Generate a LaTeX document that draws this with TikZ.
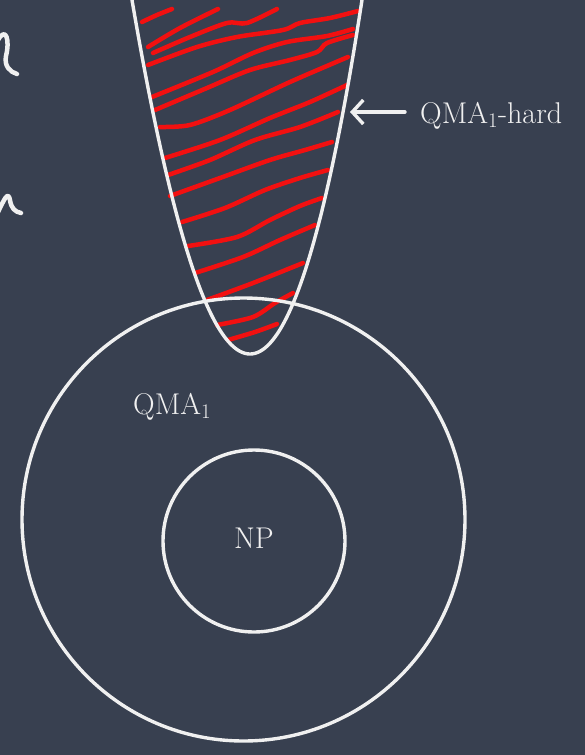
\documentclass[tikz,border=0pt]{standalone}
\usepackage{tikz}
\usetikzlibrary{arrows.meta}
\definecolor{board}{RGB}{56,64,80}
\definecolor{chalkred}{RGB}{242,16,16}
\definecolor{chalkwhite}{RGB}{240,240,240}
\begin{document}
\begin{tikzpicture}[x=1pt,y=-1pt,
	chalk/.style={draw=chalkwhite,line width=3.4pt,line cap=round,line join=round},
	hatch/.style={draw=chalkred,line width=4.5pt,line cap=round,line join=round},
	lbl/.style={text=chalkwhite,inner sep=0pt,font=\fontsize{30}{35}\selectfont}]
	\fill[board](0,0)rectangle(585,755);
	\clip(0,0)rectangle(585,755);
	% scribbles cut off at the left edge
	\draw[chalk,line width=4.5pt](-2,40)..controls(6,26)and(10,40)..(6,56)..controls(4,66)and(10,72)..(17,74);
	\draw[chalk,line width=4.5pt](-2,212)..controls(4,200)and(8,190)..(10,200)..controls(11,208)and(15,212)..(21,213);
	% red hatching
	\draw[hatch]plot[smooth]coordinates{(142,22)(157,15)(172,9)};
	\draw[hatch]plot[smooth]coordinates{(148,47)(180,28)(218,9)};
	\draw[hatch]plot[smooth]coordinates{(153,53)(190,37)(227,23)(247,23)(277,9)};
	\draw[hatch]plot[smooth]coordinates{(148,65)(197,47)(237,37)(283,30)(300,23)(330,18)(358,11)};
	\draw[hatch]plot[smooth]coordinates{(152,97)(213,72)(253,53)(287,42)(327,36)(353,29)};
	\draw[hatch]plot[smooth]coordinates{(155,110)(207,88)(250,70)(290,60)(317,52)(327,43)(353,35)};
	\draw[hatch]plot[smooth]coordinates{(160,127)(190,125)(230,110)(290,82)(348,57)};
	\draw[hatch]plot[smooth]coordinates{(165,158)(220,140)(270,118)(310,102)(347,85)};
	\draw[hatch]plot[smooth]coordinates{(168,175)(210,160)(255,140)(300,127)(338,112)};
	\draw[hatch]plot[smooth]coordinates{(170,196)(220,178)(270,160)(305,150)(332,142)};
	\draw[hatch]plot[smooth]coordinates{(182,222)(225,208)(265,190)(300,178)(328,170)};
	\draw[hatch]plot[smooth]coordinates{(188,246)(237,237)(270,220)(300,206)(322,198)};
	\draw[hatch]plot[smooth]coordinates{(195,273)(243,257)(280,240)(315,225)};
	\draw[hatch]plot[smooth]coordinates{(207,300)(253,283)(303,263)};
	\draw[hatch]plot[smooth]coordinates{(217,325)(253,317)(275,303)(293,293)};
	\draw[hatch]plot[smooth]coordinates{(228,340)(255,332)(277,324)};
	% parabola and circles
	\draw[chalk]plot[domain=-1.03:1.03,samples=120,variable=\t]({250+115*\t-3*\t*\t},{354-354*\t*\t});
	\draw[chalk](243.5,519.5)circle(221.5);
	\draw[chalk](254,541)circle(91);
	% labels
	\node[lbl,anchor=base west](qmahard)at(420,123){QMA$_1$-hard};
	\node[lbl,anchor=base west](qma)at(133,414){QMA$_1$};
	\node[lbl,anchor=base](np)at(254,548){NP};
	\coordinate(tip)at(350,112);
	\draw[chalk,-{Straight Barb[length=11pt,width=24pt]},shorten <=15pt](qmahard.west|-tip)--(tip);
\end{tikzpicture}
\end{document}
